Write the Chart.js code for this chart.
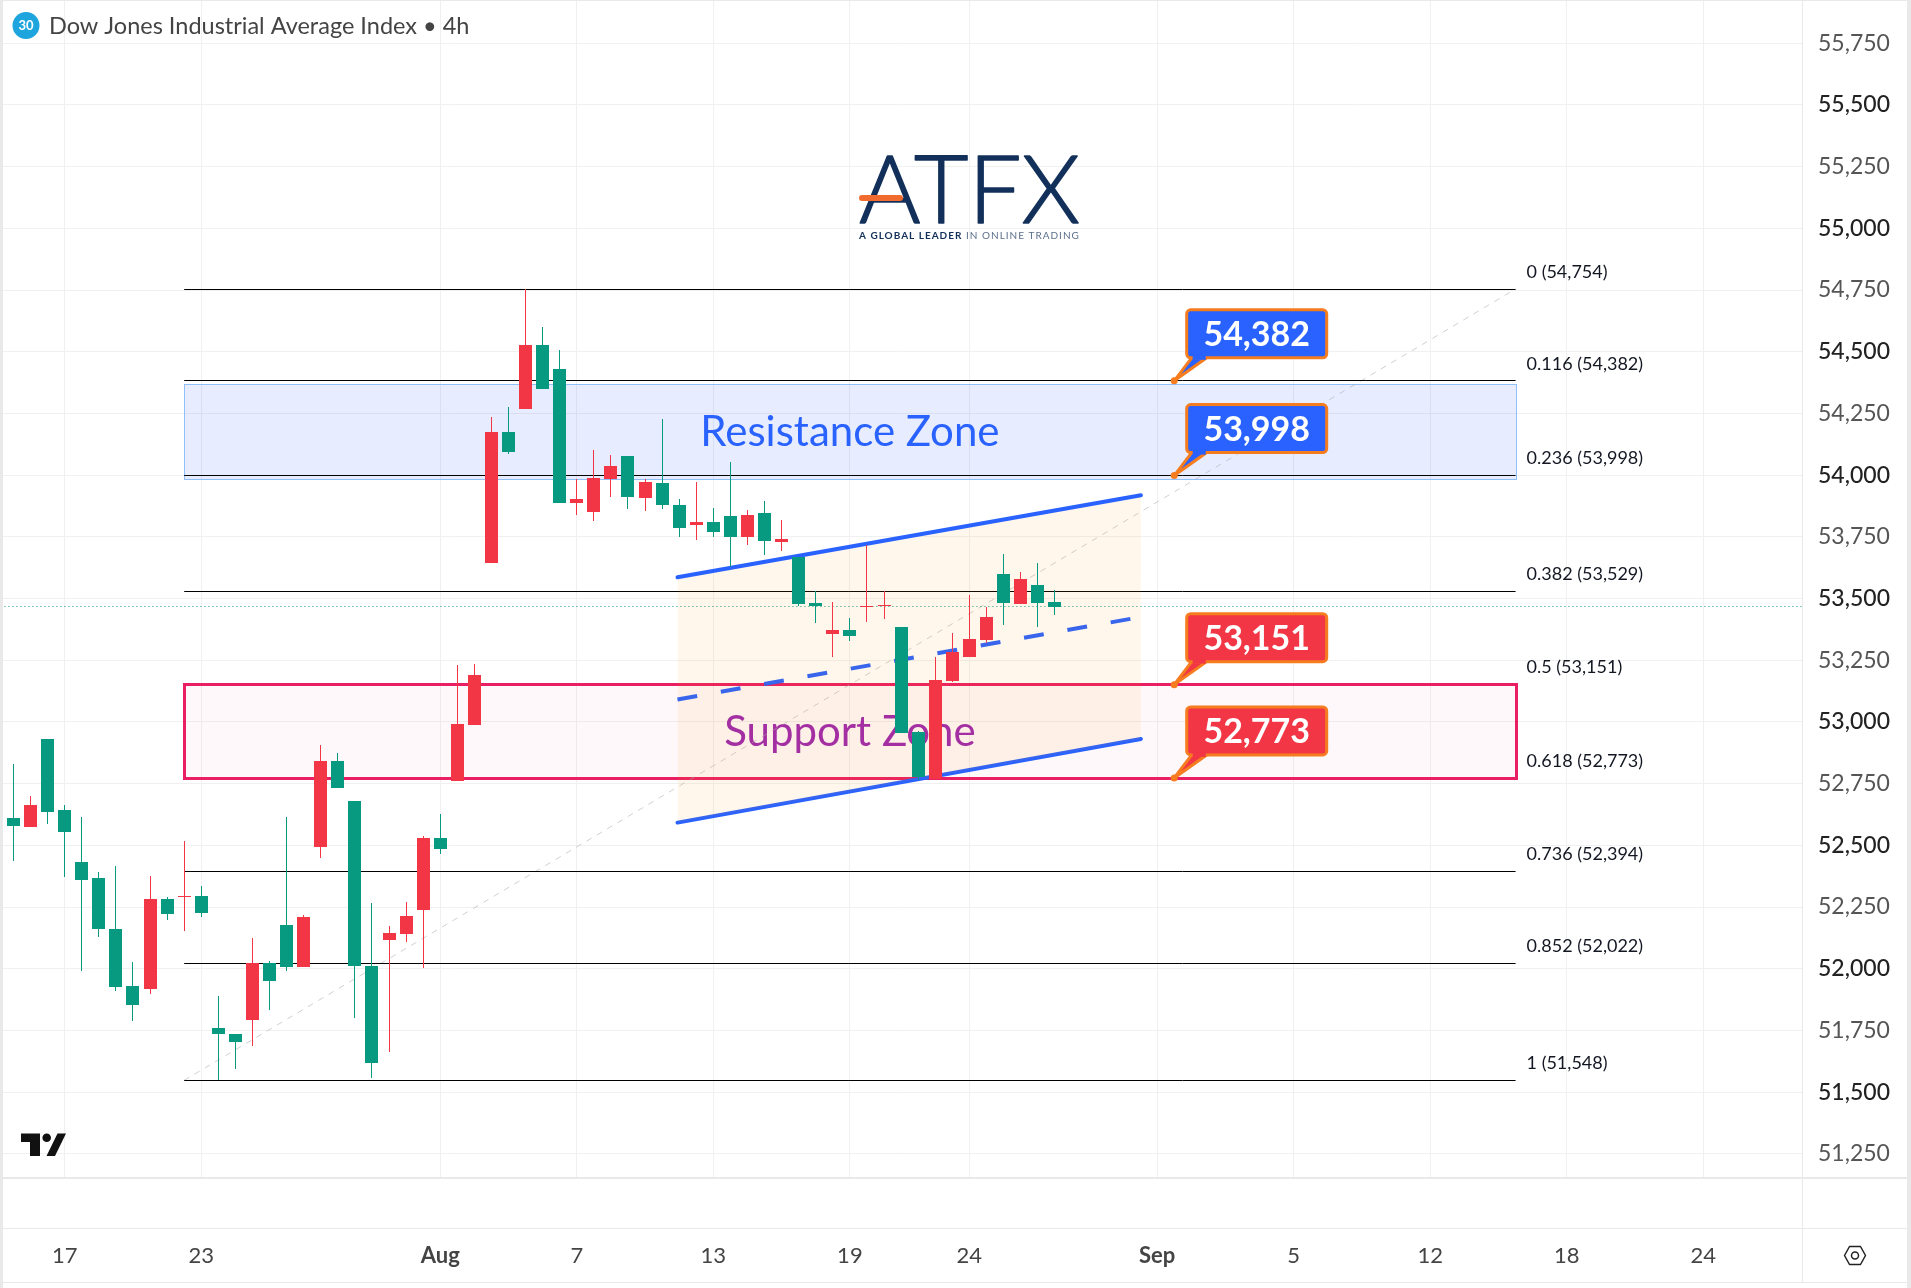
<!DOCTYPE html>
<html>
<head>
<meta charset="utf-8">
<title>Dow Jones Industrial Average Index 4h</title>
<script src="https://cdn.jsdelivr.net/npm/chart.js@4"></script>
<style>
    html, body { margin: 0; padding: 0; background: #fff; }
    canvas { display: block; }
</style>
</head>
<body>
<canvas id="priceChart" width="1911" height="1288"></canvas>
<script>
// candles
const opens  = [52611,52574,52931,52643,52432,52368,52161,51930,51918,52282,52291,52295,51760,51735,51792,52023,52177,52007,52493,52842,52680,52011,52116,52141,52238,52530,52761,52988,53644,54175,54268,54527,54430,53887,53850,53984,54077,53907,53968,53879,53798,53810,53834,53749,53846,53729,53669,53482,53356,53372,53467,53470,53384,52959,52769,53166,53263,53332,53599,53478,53555,53486];
const highs  = [52830,52700,52931,52663,52615,52392,52416,52027,52376,52291,52518,52335,51889,51735,52124,52031,52615,52218,52907,52874,52680,52266,52173,52270,52538,52627,53231,53235,54235,54276,54753,54600,54507,53984,54102,54081,54077,53984,54227,53903,53972,53867,54053,53858,53895,53818,53669,53530,53486,53421,53717,53530,53384,52963,53263,53360,53514,53465,53680,53607,53644,53534];
const lows   = [52436,52574,52586,52372,51991,52129,51910,51788,51898,52197,52153,52210,51548,51594,51687,51833,51991,52007,52449,52732,51800,51557,51663,52108,52003,52465,52761,52988,53644,54085,54268,54349,53887,53838,53814,53911,53863,53854,53863,53749,53737,53749,53628,53717,53676,53692,53470,53401,53263,53328,53405,53417,52955,52764,52769,53162,53263,53320,53393,53478,53384,53433];
const closes = [52578,52663,52635,52554,52360,52161,51926,51853,52282,52222,52295,52226,51735,51703,52023,51950,52007,52210,52842,52732,52011,51618,52145,52214,52530,52485,52992,53190,54175,54093,54527,54349,53887,53903,53988,54037,53911,53972,53879,53786,53810,53769,53749,53838,53733,53741,53478,53470,53372,53348,53470,53474,52955,52777,53170,53283,53336,53425,53482,53579,53482,53465];
const lastPrice = 53468;

// axes
const yTicks = [51250,51500,51750,52000,52250,52500,52750,53000,53250,53500,53750,54000,54250,54500,54750,55000,55250,55500,55750];
const xTickIndex  = [3,11,25,33,41,49,56,67,75,83,91,99];
const xTickLabels = ['17','23','Aug','7','13','19','24','Sep','5','12','18','24'];

// fib retracement
const fibRatios = ['0','0.116','0.236','0.382','0.5','0.618','0.736','0.852','1'];
const fibValues = [54754,54382,53998,53529,53151,52773,52394,52022,51548];
const fibStart = 10;
const fibEnd = 88;

// zones and channel
const resistanceZone = [53983,54368];
const supportZone = [52771,53152];
const channelX = [38.9,66.05];
const channelUpper = [53586,53918];
const channelMiddle = [53091,53425];
const channelLower = [52592,52931];

// callouts
const calloutIndex = 68;
const calloutValues = [54382,53998,53151,52773];
const calloutColors = ['#2962ff','#2962ff','#f23645','#f23645'];

const UP = '#f23645';
const DOWN = '#089981';
const FONT = 'Lato, sans-serif';

const candleColor = i => closes[i] >= opens[i] ? UP : DOWN;
const wickData = highs.map((h, i) => ({ x: i, y: [lows[i], h] }));
const bodyData = opens.map((o, i) => ({ x: i, y: [o, closes[i]] }));

function hLine(value, from, to) {
    return [{ x: from, y: value }, { x: to, y: value }];
}
function twoPoints(ys) {
    return [{ x: channelX[0], y: ys[0] }, { x: channelX[1], y: ys[1] }];
}

const lineBase = { type: 'line', pointRadius: 0, fill: false, tension: 0, order: 5 };

// the two fib levels under the support zone border do not show
const visibleFibs = fibValues.filter(v => !supportZone.map(s => Math.abs(s - v) < 5).includes(true));

const datasets = [
    { type: 'bar', label: 'body', data: bodyData, barThickness: 13, grouped: false, inflateAmount: 0, backgroundColor: c => candleColor(c.dataIndex), order: 1 },
    { type: 'bar', label: 'wick', data: wickData, barThickness: 1, grouped: false, inflateAmount: 0, backgroundColor: c => candleColor(c.dataIndex), order: 2 },
    { ...lineBase, label: 'upper', data: twoPoints(channelUpper), borderColor: '#2962ff', borderWidth: 4, borderCapStyle: 'round', order: 3 },
    { ...lineBase, label: 'middle', data: twoPoints(channelMiddle), borderColor: '#2962ff', borderWidth: 4, borderDash: [20, 24], order: 3 },
    { ...lineBase, label: 'lower', data: twoPoints(channelLower), borderColor: '#2962ff', borderWidth: 4, borderCapStyle: 'round', order: 3 },
    { ...lineBase, label: 'last', data: hLine(lastPrice, -1, 105), borderColor: DOWN, borderWidth: 1, borderDash: [1, 3], order: 4 },
    { ...lineBase, label: 'trend', data: [{ x: fibStart, y: fibValues[8] }, { x: fibEnd, y: fibValues[0] }], borderColor: 'rgba(170,170,170,0.55)', borderWidth: 1, borderDash: [6, 6], order: 6 },
    ...visibleFibs.map(v => ({ ...lineBase, label: 'fib ' + v, data: hLine(v, fibStart, fibEnd), borderColor: '#000', borderWidth: 1 }))
];
// fill the channel from the upper line down to the lower one
datasets[2].fill = { target: 4, below: 'rgba(255,152,0,0.075)', above: 'rgba(255,152,0,0.075)' };

// TradingView rounds candles and flat lines to whole pixels
const snapCandles = {
    id: 'snapCandles',
    afterDatasetsUpdate(chart) {
        chart.getSortedVisibleDatasetMetas().forEach(meta => {
            if (meta.type === 'bar') {
                meta.data.forEach(el => {
                    el.x = Math.floor(el.x) + 0.5;
                    const top = Math.round(Math.min(el.y, el.base));
                    const bottom = Math.round(Math.max(el.y, el.base));
                    el.y = top;
                    el.base = bottom === top ? top + 1 : bottom;
                });
            } else if (/^(fib|last)/.test(meta.label)) {
                meta.data.forEach(pt => { pt.y = Math.floor(pt.y) + 0.5; });
            }
        });
    }
};

const zones = {
    id: 'zones',
    beforeDatasetsDraw(chart) {
        const { ctx, scales: { x, y } } = chart;
        const left = Math.round(x.getPixelForValue(fibStart)) + 0.5;
        const right = Math.round(x.getPixelForValue(fibEnd)) + 0.5;
        ctx.save();

        // resistance
        const rTop = Math.round(y.getPixelForValue(resistanceZone[1])) + 0.5;
        const rBottom = Math.round(y.getPixelForValue(resistanceZone[0])) + 0.5;
        ctx.fillStyle = 'rgba(41,98,255,0.115)';
        ctx.fillRect(left, rTop, right - left, rBottom - rTop);
        ctx.strokeStyle = '#90bff9';
        ctx.lineWidth = 1;
        ctx.strokeRect(left, rTop, right - left, rBottom - rTop);

        // support
        const sTop = Math.round(y.getPixelForValue(supportZone[1])) + 0.5;
        const sBottom = Math.round(y.getPixelForValue(supportZone[0])) + 0.5;
        ctx.fillStyle = 'rgba(233,30,99,0.03)';
        ctx.fillRect(left, sTop, right - left, sBottom - sTop);
        ctx.strokeStyle = '#e91e63';
        ctx.lineWidth = 3;
        ctx.strokeRect(left, sTop, right - left, sBottom - sTop);

        // zone names
        const mid = x.getPixelForValue((fibStart + fibEnd) / 2);
        ctx.textAlign = 'center';
        ctx.textBaseline = 'middle';
        ctx.font = '42px ' + FONT;
        ctx.fillStyle = '#2962ff';
        ctx.fillText('Resistance Zone', mid, y.getPixelForValue((resistanceZone[0] + resistanceZone[1]) / 2) + 1);
        ctx.fillStyle = '#9c27b0';
        ctx.fillText('Support Zone', mid, y.getPixelForValue((supportZone[0] + supportZone[1]) / 2) + 1);

        drawLogo(ctx);
        ctx.restore();
    }
};

function drawLogo(ctx) {
    ctx.save();
    ctx.textAlign = 'left';
    ctx.textBaseline = 'alphabetic';
    ctx.fillStyle = '#12305a';
    ctx.strokeStyle = '#12305a';
    ctx.lineWidth = 1.5;
    ctx.lineJoin = 'round';
    ctx.font = '300 94px ' + FONT;
    ctx.letterSpacing = '0px';
    ctx.fillText('ATFX', 859, 223);
    ctx.strokeText('ATFX', 859, 223);
    ctx.fillStyle = '#f26b2e';
    ctx.beginPath();
    ctx.roundRect(859, 195, 44, 6, 3);
    ctx.fill();
    ctx.letterSpacing = '1px';
    ctx.font = '700 10px ' + FONT;
    ctx.fillStyle = '#12305a';
    ctx.fillText('A GLOBAL LEADER', 859, 239);
    ctx.font = '400 10px ' + FONT;
    ctx.fillStyle = '#5d6f8b';
    ctx.fillText('IN ONLINE TRADING', 966, 239);
    ctx.restore();
}

const overlay = {
    id: 'overlay',
    afterDraw(chart) {
        const { ctx, scales: { x, y } } = chart;
        ctx.save();

        // fib labels
        ctx.font = '18px ' + FONT;
        ctx.fillStyle = '#131722';
        ctx.textAlign = 'left';
        ctx.textBaseline = 'middle';
        const labelX = x.getPixelForValue(fibEnd) + 11;
        fibValues.forEach((v, i) => {
            ctx.fillText(fibRatios[i] + ' (' + v.toLocaleString('en-US') + ')', labelX, y.getPixelForValue(v) - 17);
        });

        // callouts
        const dotX = x.getPixelForValue(calloutIndex);
        calloutValues.forEach((v, i) => {
            const dotY = y.getPixelForValue(v);
            const bx = dotX + 12.5, by = dotY - 71, bw = 140, bh = 48;
            ctx.strokeStyle = '#f57c1f';
            ctx.fillStyle = calloutColors[i];
            ctx.lineWidth = 3;
            ctx.lineJoin = 'round';
            ctx.beginPath();
            ctx.moveTo(dotX, dotY);
            ctx.lineTo(bx + 5, by + bh);
            ctx.lineTo(bx + 20, by + bh);
            ctx.closePath();
            ctx.fill();
            ctx.stroke();
            ctx.beginPath();
            ctx.roundRect(bx, by, bw, bh, 4);
            ctx.fill();
            ctx.stroke();
            ctx.beginPath();
            ctx.fillStyle = calloutColors[i];
            ctx.fillRect(bx + 6, by + bh - 2, 13, 4);
            ctx.fillStyle = '#f57c1f';
            ctx.beginPath();
            ctx.arc(dotX, dotY, 3.5, 0, Math.PI * 2);
            ctx.fill();
            ctx.fillStyle = '#fff';
            ctx.font = '700 34px ' + FONT;
            ctx.textAlign = 'center';
            ctx.textBaseline = 'middle';
            ctx.fillText(v.toLocaleString('en-US'), bx + bw / 2, by + bh / 2 + 1);
            ctx.textAlign = 'left';
        });

        // panel frame
        ctx.fillStyle = '#e9e9e9';
        ctx.fillRect(0, 0, 3, 1288);
        ctx.fillRect(1907, 0, 4, 1288);
        ctx.fillRect(0, 0, 1911, 1);
        ctx.fillRect(3, 1177, 1904, 2);
        ctx.fillRect(3, 1228, 1904, 1);
        ctx.fillRect(3, 1282, 1904, 1);
        ctx.fillRect(1802, 1, 1, 1281);

        // title
        ctx.fillStyle = '#1ea5dd';
        ctx.beginPath();
        ctx.arc(26, 25.5, 13.5, 0, Math.PI * 2);
        ctx.fill();
        ctx.fillStyle = '#fff';
        ctx.font = '700 13px ' + FONT;
        ctx.textAlign = 'center';
        ctx.textBaseline = 'middle';
        ctx.fillText('30', 26, 26);
        ctx.fillStyle = '#444';
        ctx.font = '23.5px ' + FONT;
        ctx.textAlign = 'left';
        ctx.fillText('Dow Jones Industrial Average Index \u2022 4h', 49, 26);

        // tradingview mark
        ctx.fillStyle = '#111';
        ctx.beginPath();
        ctx.moveTo(21, 1133.5); ctx.lineTo(40, 1133.5); ctx.lineTo(40, 1156); ctx.lineTo(30, 1156);
        ctx.lineTo(30, 1142); ctx.lineTo(21, 1142); ctx.closePath();
        ctx.moveTo(66, 1133.5); ctx.lineTo(55, 1156); ctx.lineTo(46.5, 1156); ctx.lineTo(57.5, 1133.5); ctx.closePath();
        ctx.fill();
        ctx.beginPath();
        ctx.arc(46.7, 1137.7, 4.3, 0, Math.PI * 2);
        ctx.fill();

        // settings icon
        ctx.strokeStyle = '#222';
        ctx.lineWidth = 1.5;
        ctx.beginPath();
        ctx.moveTo(1844.5, 1255.5); ctx.lineTo(1849.5, 1246.5); ctx.lineTo(1860.5, 1246.5);
        ctx.lineTo(1865.5, 1255.5); ctx.lineTo(1860.5, 1264.5); ctx.lineTo(1849.5, 1264.5);
        ctx.closePath();
        ctx.stroke();
        ctx.beginPath();
        ctx.arc(1855, 1255.5, 3.5, 0, Math.PI * 2);
        ctx.stroke();
        ctx.restore();
    }
};

new Chart(document.getElementById('priceChart'), {
    type: 'bar',
    data: { datasets },
    plugins: [snapCandles, zones, overlay],
    options: {
        responsive: false,
        animation: false,
        events: [],
        layout: { padding: { left: 3, top: 1, right: 4, bottom: 0 } },
        plugins: { legend: { display: false }, tooltip: { enabled: false } },
        scales: {
            x: {
                type: 'linear',
                position: 'bottom',
                min: -0.615,
                max: 104.78,
                offset: false,
                grid: { offset: false, color: '#f0f0f0', drawTicks: false },
                border: { display: false },
                afterBuildTicks: axis => { axis.ticks = xTickIndex.map(v => ({ value: v })); },
                afterFit: axis => {
                    axis.height = 111;
                    axis.paddingLeft = 0;
                    axis.paddingRight = 0;
                },
                ticks: {
                    autoSkip: false,
                    maxRotation: 0,
                    padding: 66,
                    color: '#444',
                    font: c => ({ family: FONT, size: 22, weight: /[A-Z]/.test(xTickLabels[c.index] || '') ? '700' : '400' }),
                    callback: (value, i) => xTickLabels[i]
                }
            },
            y: {
                type: 'linear',
                position: 'right',
                min: 51156,
                max: 55921,
                grid: { color: '#f0f0f0', drawTicks: false },
                border: { display: false },
                afterBuildTicks: axis => { axis.ticks = yTicks.map(v => ({ value: v })); },
                afterFit: axis => {
                    axis.width = 105;
                    axis.paddingTop = 0;
                    axis.paddingBottom = 0;
                },
                ticks: {
                    autoSkip: false,
                    crossAlign: 'center',
                    padding: 16,
                    color: c => c.tick.value % 500 === 0 ? '#222' : '#555',
                    font: c => ({ family: FONT, size: 23, weight: yTicks[c.index] % 500 === 0 ? '500' : '400' }),
                    callback: value => value.toLocaleString('en-US')
                }
            }
        }
    }
});
</script>
</body>
</html>
